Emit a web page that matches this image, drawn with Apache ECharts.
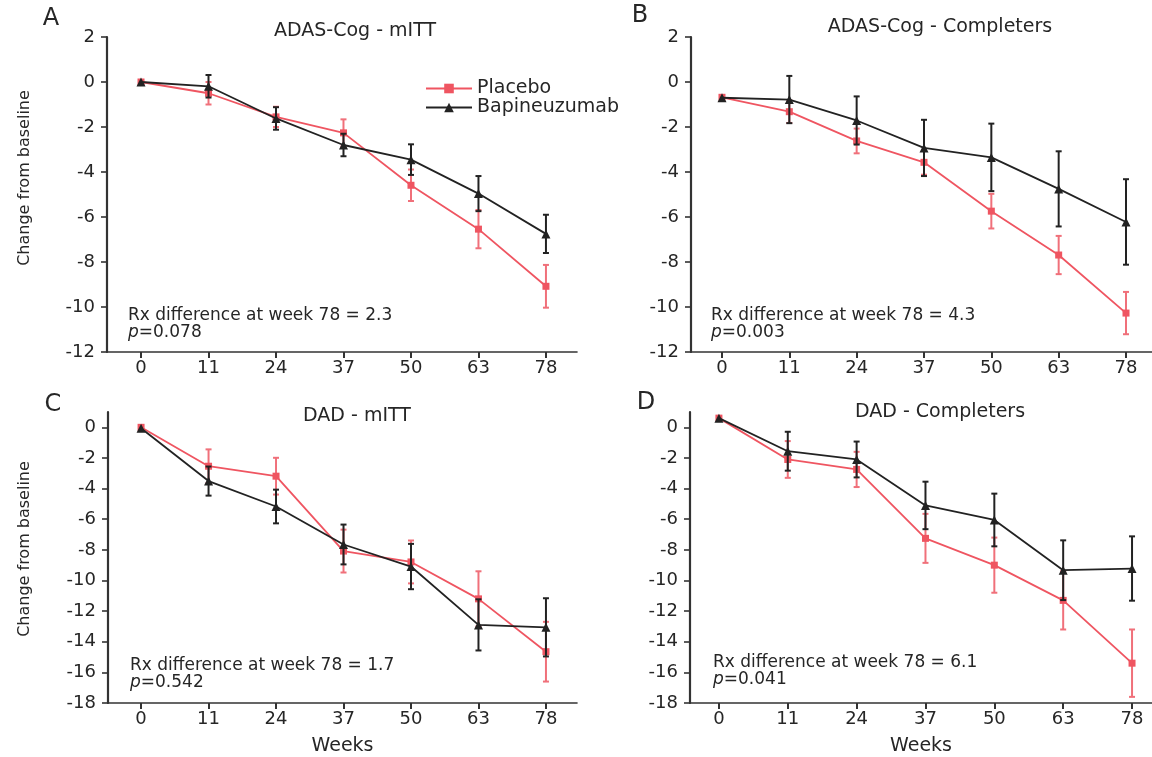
<!DOCTYPE html>
<html>
<head>
<meta charset="utf-8">
<script src="https://cdn.jsdelivr.net/npm/echarts@6/dist/echarts.min.js"></script>
<style>
  html, body { margin: 0; padding: 0; background: #fff; }
  #chart { width: 1152px; height: 757px; }
</style>
</head>
<body>
<div id="chart"></div>
<script>
// visit weeks, drawn at equal spacing
const weeks = ["0", "11", "24", "37", "50", "63", "78"];
const weekIndex = [0, 1, 2, 3, 4, 5, 6];
const yTicksTop = [-12, -10, -8, -6, -4, -2, 0, 2];
const yTicksBottom = [-18, -16, -14, -12, -10, -8, -6, -4, -2, 0];

// A: ADAS-Cog - mITT
const adasMittPlacebo = [0, -0.5, -1.55, -2.26, -4.59, -6.54, -9.08];
const adasMittPlaceboErr = [0, 0.5, 0.45, 0.6, 0.7, 0.85, 0.95];
const adasMittBapi = [0, -0.19, -1.62, -2.8, -3.45, -4.96, -6.75];
const adasMittBapiErr = [0, 0.5, 0.5, 0.5, 0.68, 0.78, 0.85];

// B: ADAS-Cog - Completers
const adasCompPlacebo = [-0.68, -1.32, -2.62, -3.57, -5.74, -7.69, -10.27];
const adasCompPlaceboErr = [0, 0.5, 0.55, 0.55, 0.77, 0.85, 0.94];
const adasCompBapi = [-0.7, -0.78, -1.71, -2.93, -3.35, -4.75, -6.22];
const adasCompBapiErr = [0, 1.05, 1.07, 1.25, 1.5, 1.67, 1.9];

// C: DAD - mITT
const dadMittPlacebo = [0, -2.54, -3.19, -8.08, -8.79, -11.2, -14.65];
const dadMittPlaceboErr = [0, 1.1, 1.2, 1.4, 1.4, 1.8, 1.95];
const dadMittBapi = [-0.06, -3.51, -5.17, -7.65, -9.09, -12.9, -13.06];
const dadMittBapiErr = [0, 0.95, 1.1, 1.3, 1.48, 1.67, 1.9];

// D: DAD - Completers
const dadCompPlacebo = [0.6, -2.1, -2.75, -7.25, -9.0, -11.3, -15.4];
const dadCompPlaceboErr = [0, 1.2, 1.15, 1.6, 1.8, 1.9, 2.2];
const dadCompBapi = [0.6, -1.56, -2.1, -5.1, -6.05, -9.33, -9.22];
const dadCompBapiErr = [0, 1.27, 1.17, 1.55, 1.72, 1.95, 2.1];

const panels = [
  { title: "ADAS-Cog - mITT", placebo: adasMittPlacebo, placeboErr: adasMittPlaceboErr, bapi: adasMittBapi, bapiErr: adasMittBapiErr },
  { title: "ADAS-Cog - Completers", placebo: adasCompPlacebo, placeboErr: adasCompPlaceboErr, bapi: adasCompBapi, bapiErr: adasCompBapiErr },
  { title: "DAD - mITT", placebo: dadMittPlacebo, placeboErr: dadMittPlaceboErr, bapi: dadMittBapi, bapiErr: dadMittBapiErr },
  { title: "DAD - Completers", placebo: dadCompPlacebo, placeboErr: dadCompPlaceboErr, bapi: dadCompBapi, bapiErr: dadCompBapiErr },
];

const RED = "#ef5561";
const RED_BAR = "#f0707a";
const BLACK = "#222222";
const FONT = "DejaVu Sans";
const TEXT = "#262626";

const grids = [
  { left: 107, top: 37, width: 470, height: 315 },
  { left: 691, top: 37, width: 461, height: 315 },
  { left: 108, top: 412, width: 469, height: 291 },
  { left: 690, top: 412, width: 462, height: 291 },
];
const xRanges = [[-0.504, 6.46], [-0.46, 6.386], [-0.49, 6.46], [-0.42, 6.29]];

const chart = echarts.init(document.getElementById("chart"));

const errorBars = (k, means, errs, color, z) => ({
  type: "custom",
  xAxisIndex: k,
  yAxisIndex: k,
  z: z,
  silent: true,
  data: means.map((m, i) => [weekIndex[i], m - errs[i], m + errs[i]]),
  renderItem: (params, api) => {
    if (api.value(1) === api.value(2)) return null;
    const lo = api.coord([api.value(0), api.value(1)]);
    const hi = api.coord([api.value(0), api.value(2)]);
    const cap = 3;
    const style = { stroke: color, lineWidth: 2 };
    return {
      type: "group",
      children: [
        { type: "line", shape: { x1: lo[0], y1: lo[1], x2: hi[0], y2: hi[1] }, style: style },
        { type: "line", shape: { x1: lo[0] - cap, y1: lo[1], x2: lo[0] + cap, y2: lo[1] }, style: style },
        { type: "line", shape: { x1: hi[0] - cap, y1: hi[1], x2: hi[0] + cap, y2: hi[1] }, style: style },
      ],
    };
  },
});

const series = [];
panels.forEach((p, k) => {
  series.push(errorBars(k, p.placebo, p.placeboErr, RED_BAR, 2));
  series.push({
    type: "line",
    name: "Placebo",
    xAxisIndex: k,
    yAxisIndex: k,
    data: p.placebo.map((v, i) => [weekIndex[i], v]),
    symbol: "rect",
    symbolSize: 7,
    lineStyle: { color: RED, width: 1.8 },
    itemStyle: { color: RED },
    z: 3,
  });
  series.push(errorBars(k, p.bapi, p.bapiErr, BLACK, 4));
  series.push({
    type: "line",
    name: "Bapineuzumab",
    xAxisIndex: k,
    yAxisIndex: k,
    data: p.bapi.map((v, i) => [weekIndex[i], v]),
    symbol: "triangle",
    symbolSize: 9,
    lineStyle: { color: BLACK, width: 1.8 },
    itemStyle: { color: BLACK },
    z: 5,
  });
});

const xAxes = grids.map((g, k) => ({
  type: "value",
  gridIndex: k,
  min: xRanges[k][0],
  max: xRanges[k][1],
  name: k >= 2 ? "Weeks" : "",
  nameLocation: "middle",
  nameGap: 34,
  nameTextStyle: { fontFamily: FONT, fontSize: 19, color: TEXT },
  splitLine: { show: false },
  axisLine: { onZero: false, lineStyle: { color: "#333", width: 1.6 } },
  axisTick: { customValues: weekIndex, length: 6, lineStyle: { color: "#333", width: 2 } },
  axisLabel: {
    customValues: weekIndex,
    formatter: (v) => weeks[Math.round(v)],
    margin: 7,
    fontFamily: FONT,
    fontSize: 18,
    color: TEXT,
  },
}));

const yAxes = grids.map((g, k) => ({
  type: "value",
  gridIndex: k,
  min: k < 2 ? -12 : -18,
  max: k < 2 ? 2 : 1,
  splitLine: { show: false },
  axisLine: { onZero: false, lineStyle: { color: "#333", width: 2.2 } },
  axisTick: { customValues: k < 2 ? yTicksTop : yTicksBottom, length: 6, lineStyle: { color: "#333", width: 1.6 } },
  axisLabel: {
    customValues: k < 2 ? yTicksTop : yTicksBottom,
    margin: 12,
    fontFamily: FONT,
    fontSize: 18,
    color: TEXT,
  },
}));

const titleCenters = [[355, 22], [940, 18], [357, 407], [940, 403]];
const titles = panels.map((p, k) => ({
  text: p.title,
  left: titleCenters[k][0],
  top: titleCenters[k][1],
  padding: 0,
  textAlign: "center",
  textStyle: { fontFamily: FONT, fontSize: 19, fontWeight: "normal", color: TEXT },
}));

const letters = [["A", 51, 19], ["B", 640, 16], ["C", 53, 405], ["D", 646, 403]];
const notes = [
  ["Rx difference at week 78 = 2.3", "0.078", 128, 307],
  ["Rx difference at week 78 = 4.3", "0.003", 711, 307],
  ["Rx difference at week 78 = 1.7", "0.542", 130, 657],
  ["Rx difference at week 78 = 6.1", "0.041", 713, 654],
];

const graphic = [];
letters.forEach(([t, x, y]) => {
  graphic.push({
    type: "text",
    x: x,
    y: y,
    style: { text: t, font: `24px "${FONT}"`, fill: TEXT, align: "center", verticalAlign: "middle" },
  });
});
notes.forEach(([line, pval, x, y]) => {
  graphic.push({
    type: "text",
    x: x,
    y: y,
    style: {
      text: line + "\n{i|p}=" + pval,
      font: `17px "${FONT}"`,
      fill: TEXT,
      lineHeight: 17,
      rich: { i: { fontStyle: "italic", fontFamily: FONT, fontSize: 17, fill: TEXT } },
    },
  });
});
[[25, 178], [25, 549]].forEach(([x, y]) => {
  graphic.push({
    type: "text",
    x: x,
    y: y,
    rotation: Math.PI / 2,
    style: { text: "Change from baseline", font: `16px "${FONT}"`, fill: TEXT, align: "center", verticalAlign: "middle" },
  });
});

chart.setOption({
  animation: false,
  backgroundColor: "#fff",
  title: titles,
  legend: {
    orient: "vertical",
    left: 420,
    top: 74,
    itemWidth: 46,
    itemHeight: 12,
    itemGap: 0,
    data: ["Placebo", "Bapineuzumab"],
    textStyle: { fontFamily: FONT, fontSize: 19, lineHeight: 18, color: TEXT },
  },
  grid: grids,
  xAxis: xAxes,
  yAxis: yAxes,
  series: series,
  graphic: graphic,
});
</script>
</body>
</html>
